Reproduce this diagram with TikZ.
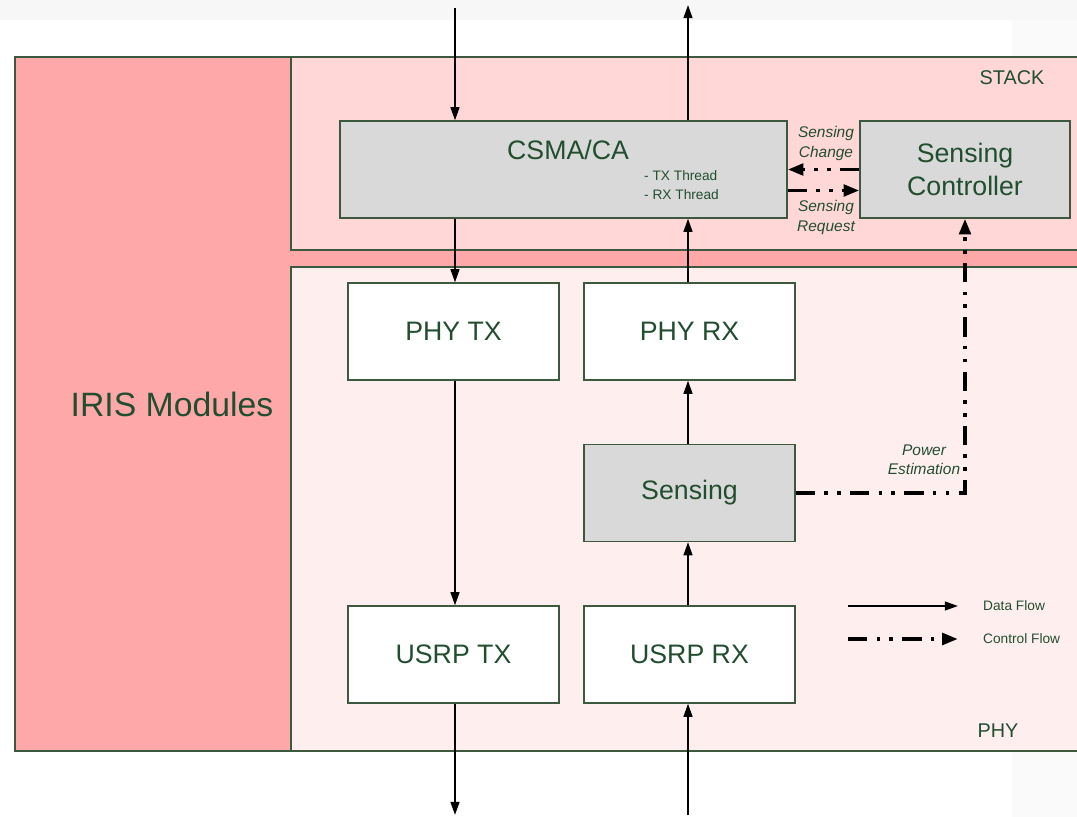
\documentclass[tikz,border=0pt]{standalone}
\usepackage{fontspec}
\setmainfont{Liberation Sans}
\usetikzlibrary{arrows.meta}
\usetikzlibrary{calc}
\definecolor{irisred}{RGB}{255,168,170}
\definecolor{stackpink}{RGB}{255,215,215}
\definecolor{phypink}{RGB}{255,238,238}
\definecolor{blockgray}{RGB}{217,217,217}
\definecolor{edgegreen}{RGB}{60,88,62}
\definecolor{textgreen}{RGB}{34,78,48}
\newcommand{\modblock}[6] % name, x in px, y in px, width in px, fill, text
{
	\node[draw=edgegreen, line width=0.7pt, fill=#5, minimum width=#4*0.2mm, minimum height=19.4mm, inner sep=0pt,
		font=\fontsize{15.2}{18.8}\selectfont, text=textgreen, align=center] (#1) at (#2,#3) {#6};
}

\begin{document}
\begin{tikzpicture}[x=0.2mm, y=-0.2mm,
	data/.style={line width=1.1pt, -{Triangle[length=7.5pt,width=5pt]}},
	ctrl/.style={line width=2.2pt, dash pattern=on 11pt off 5.3pt on 2pt off 5.3pt on 2pt off 5.3pt, -{Triangle[length=9pt,width=6.5pt]}},
	note/.style={font=\itshape\fontsize{8.8}{11}\selectfont, text=textgreen, align=center},
	small/.style={font=\fontsize{7.8}{10.8}\selectfont, text=textgreen}]
	% canvas: 1077 x 817 px, 1px = 0.2mm
	\clip (0,0) rectangle (1077,817);
	\fill[white] (0,0) rectangle (1077,817);
	\fill[black!3] (0,0) rectangle (1077,20);
	\fill[black!2] (1012,20) rectangle (1077,817);
	
	% layers
	\draw[edgegreen, line width=0.7pt, fill=irisred] (15,57) rectangle (1090,751);
	\draw[edgegreen, line width=0.7pt, fill=stackpink] (291,57) rectangle (1090,250);
	\draw[edgegreen, line width=0.7pt, fill=phypink] (291,267) rectangle (1090,751);
	\node[font=\fontsize{19.2}{22}\selectfont, text=textgreen] (iris) at (172,404) {IRIS Modules};
	\node[font=\fontsize{11.3}{13}\selectfont, text=textgreen] (stack) at (1012,78) {STACK};
	\node[font=\fontsize{11.3}{13}\selectfont, text=textgreen] (phy) at (998,731) {PHY};
	
	% blocks
	\modblock{csma}{563.5}{169.5}{447}{blockgray}{};
	\node[font=\fontsize{15.2}{18.8}\selectfont, text=textgreen] (csmatitle) at (568,150) {CSMA/CA};
	\node[small, anchor=west, align=left] (threads) at (638,185.5) {- TX Thread\\- RX Thread};
	\modblock{ctrl}{965}{169.5}{210}{blockgray}{Sensing\\Controller};
	\modblock{phytx}{453.5}{331.5}{211}{white}{PHY TX};
	\modblock{phyrx}{689.5}{331.5}{211}{white}{PHY RX};
	\modblock{sensing}{689.5}{493}{211}{blockgray}{Sensing};
	\modblock{usrptx}{453.5}{654.5}{211}{white}{USRP TX};
	\modblock{usrprx}{689.5}{654.5}{211}{white}{USRP RX};
	
	% data flow
	\coordinate (macin) at (455,8);
	\coordinate (macout) at (688,5);
	\coordinate (rfout) at (455,815);
	\coordinate (rfin) at (688,815);
	\draw[data] (macin) -- (macin |- csma.north);
	\draw[data] (macout |- csma.north) -- (macout);
	\draw[data] (macin |- csma.south) -- (macin |- phytx.north);
	\draw[data] (macout |- phyrx.north) -- (macout |- csma.south);
	\draw[data] (macin |- phytx.south) -- (macin |- usrptx.north);
	\draw[data] (macout |- sensing.north) -- (macout |- phyrx.south);
	\draw[data] (macout |- usrprx.north) -- (macout |- sensing.south);
	\draw[data] (macin |- usrptx.south) -- (rfout);
	\draw[data] (rfin) -- (macout |- usrprx.south);
	
	% control flow
	\draw[ctrl] (ctrl.west) -- (csma.east);
	\draw[ctrl] ([yshift=-4.2mm]csma.east) -- ([yshift=-4.2mm]ctrl.west);
	\draw[ctrl] (sensing.east) -| (ctrl.south);
	\node[note] (change) at (826,143.5) {Sensing\\Change};
	\node[note] (request) at (826,217.5) {Sensing\\Request};
	\node[note] (power) at (924,460) {Power\\Estimation};
	
	% legend
	\coordinate (datastart) at (848,606);
	\coordinate (dataend) at (958,606);
	\coordinate (ctrlstart) at (848,639);
	\coordinate (ctrlend) at (958,639);
	\draw[data] (datastart) -- (dataend);
	\draw[ctrl] (ctrlstart) -- (ctrlend);
	\node[small, anchor=west] (datalbl) at (977,606) {Data Flow};
	\node[small, anchor=west] (ctrllbl) at (977,639) {Control Flow};
\end{tikzpicture}
\end{document}
